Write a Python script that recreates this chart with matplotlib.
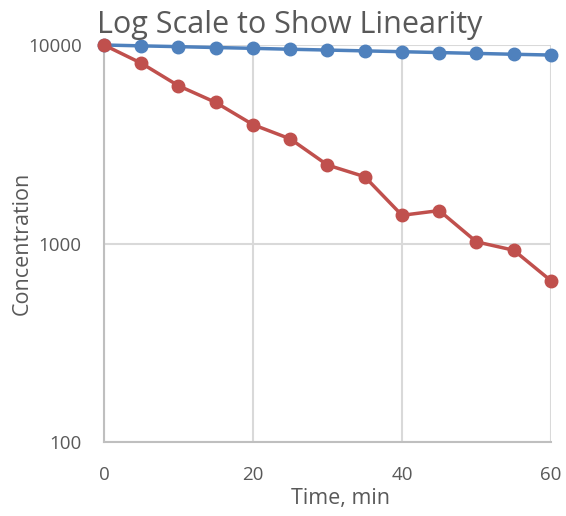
import matplotlib
matplotlib.use("Agg")
import matplotlib.pyplot as plt
from matplotlib.ticker import FixedLocator, FixedFormatter, NullLocator

# data
time_min = [0, 5, 10, 15, 20, 25, 30, 35, 40, 45, 50, 55, 60]
conc_blue = [10000, 9900, 9810, 9710, 9620, 9520, 9430, 9340, 9250, 9160, 9070, 8980, 8900]
conc_red = [10000, 8100, 6230, 5135, 3970, 3365, 2485, 2170, 1387, 1465, 1019, 925, 649]
y_ticks = [100, 1000, 10000]
x_ticks = [0, 20, 40, 60]

plt.rcParams['font.family'] = ['Open Sans', 'DejaVu Sans']
txt = '#595959'
grid_c = '#d9d9d9'

fig = plt.figure(figsize=(5.66, 5.16), dpi=100)
ax = fig.add_axes([0.1837, 0.1434, 0.7898, 0.7694])

ax.plot(time_min, conc_blue, color='#4f81bd', lw=2.5, marker='o', ms=9, zorder=3, clip_on=False)
ax.plot(time_min, conc_red, color='#c0504d', lw=2.5, marker='o', ms=9, zorder=4, clip_on=False)

ax.set_yscale('log')
ax.set_xlim(0, 60)
ax.set_ylim(100, 10000)
ax.yaxis.set_major_locator(FixedLocator(y_ticks))
ax.yaxis.set_major_formatter(FixedFormatter([str(v) for v in y_ticks]))
ax.yaxis.set_minor_locator(NullLocator())
ax.set_xticks(x_ticks)
ax.tick_params(length=0, labelsize=13.5, colors=txt)
ax.tick_params(axis='y', pad=16)
ax.tick_params(axis='x', pad=17)

ax.grid(True, color=grid_c, lw=1.5)
ax.set_axisbelow(True)
for s in ['top', 'right']:
    ax.spines[s].set_visible(False)
for s in ['left', 'bottom']:
    ax.spines[s].set_color('#bfbfbf')
    ax.spines[s].set_linewidth(1.5)

ax.set_xlabel('Time, min', fontsize=15.5, color=txt)
ax.set_ylabel('Concentration', fontsize=15.5, color=txt)
ax.xaxis.set_label_coords(0.530, -0.115)
ax.yaxis.set_label_coords(-0.160, 0.5)
fig.text(0.171, 0.936, 'Log Scale to Show Linearity', fontsize=22, color=txt, va='baseline')

fig.savefig('out.png', dpi=100)
